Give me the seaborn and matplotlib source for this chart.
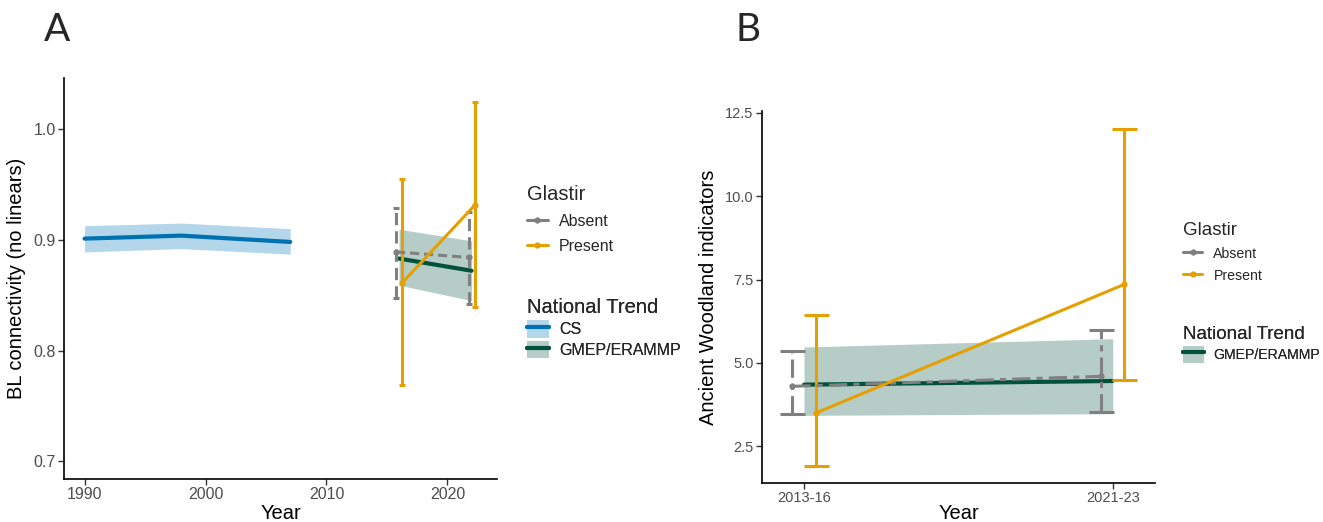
import numpy as np
import pandas as pd
import matplotlib
matplotlib.use("Agg")
import matplotlib.pyplot as plt
import seaborn as sns
from matplotlib.lines import Line2D
from matplotlib.patches import Patch
from matplotlib.legend_handler import HandlerTuple

sns.set_theme(style="white")
plt.rcParams["font.family"] = ["Liberation Sans", "DejaVu Sans"]

# ---- Panel A: broadleaf connectivity ----
cs_years = [1990, 1998, 2007]
cs_mean = [0.901, 0.9037, 0.898]
cs_lo = [0.889, 0.892, 0.887]
cs_hi = [0.9127, 0.915, 0.910]

gmep_years_a = [2016, 2022]
gmep_mean_a = [0.883, 0.872]
gmep_lo_a = [0.859, 0.845]
gmep_hi_a = [0.9095, 0.899]

glastir_years_a = [2016, 2022]
absent_mean_a = [0.889, 0.884]
absent_lo_a = [0.847, 0.842]
absent_hi_a = [0.929, 0.925]
present_mean_a = [0.861, 0.931]
present_lo_a = [0.769, 0.839]
present_hi_a = [0.955, 1.024]

# ---- Panel B: ancient woodland indicators ----
periods = ["2013-16", "2021-23"]
gmep_mean_b = [4.35, 4.46]
gmep_lo_b = [3.43, 3.48]
gmep_hi_b = [5.48, 5.73]
absent_mean_b = [4.30, 4.60]
absent_lo_b = [3.46, 3.53]
absent_hi_b = [5.35, 5.98]
present_mean_b = [3.50, 7.36]
present_lo_b = [1.90, 4.50]
present_hi_b = [6.43, 12.03]

GREY = "#808080"
ORANGE = "#E69F00"
CS_LINE = "#0072B2"
CS_BAND = "#B3D6EA"
GM_LINE = "#00533A"
GM_BAND = "#B5CDC6"
TICK_COL = "#4D4D4D"

TITLE_FS = 14.5

fig = plt.figure(figsize=(13.23, 5.22), dpi=100)
W, H = 1323, 522


def px_axes(left, top, right, bottom):
    return fig.add_axes([left / W, 1 - bottom / H, (right - left) / W, (bottom - top) / H])


def style_axes(ax, tick_fs):
    sns.despine(ax=ax)
    for s in ("left", "bottom"):
        ax.spines[s].set_color("black")
        ax.spines[s].set_linewidth(1.2)
    ax.tick_params(axis="both", which="both", direction="out", length=4, width=1,
                   color="#333333", labelcolor=TICK_COL, labelsize=tick_fs, pad=2,
                   left=True, bottom=True)


def glastir_lines(ax, x_abs, x_pre, a_mean, p_mean, abs_dash, lw):
    df = pd.DataFrame({
        "x": list(x_abs) + list(x_pre),
        "y": list(a_mean) + list(p_mean),
        "Glastir": ["Absent"] * len(x_abs) + ["Present"] * len(x_pre),
    })
    sns.lineplot(data=df, x="x", y="y", hue="Glastir", style="Glastir",
                 palette={"Absent": GREY, "Present": ORANGE},
                 dashes={"Absent": abs_dash, "Present": ""},
                 markers={"Absent": "o", "Present": "o"},
                 markersize=4.5, markeredgewidth=0, linewidth=lw,
                 estimator=None, legend=False, ax=ax, zorder=4)


def errbars(ax, x, mean, lo, hi, color, capsize, lw, ls):
    m = np.asarray(mean)
    yerr = [m - np.asarray(lo), np.asarray(hi) - m]
    eb = ax.errorbar(x, m, yerr=yerr, fmt="none", ecolor=color, elinewidth=lw,
                     capsize=capsize, capthick=lw, zorder=3)
    eb[2][0].set_linestyle(ls)
    return eb


# ================= Panel A =================
axA = px_axes(64, 78, 497, 479)
style_axes(axA, 11.5)

axA.fill_between(cs_years, cs_lo, cs_hi, color=CS_BAND, lw=0, zorder=1)
sns.lineplot(x=cs_years, y=cs_mean, color=CS_LINE, linewidth=3.0, ax=axA, zorder=2)
axA.fill_between(gmep_years_a, gmep_lo_a, gmep_hi_a, color=GM_BAND, lw=0, zorder=1)
sns.lineplot(x=gmep_years_a, y=gmep_mean_a, color=GM_LINE, linewidth=3.0, ax=axA, zorder=2)

dodge_a = 0.25
xa_abs = [y - dodge_a for y in glastir_years_a]
xa_pre = [y + dodge_a for y in glastir_years_a]
errbars(axA, xa_abs, absent_mean_a, absent_lo_a, absent_hi_a, GREY, 2.2, 2.2, (0, (4, 2)))
errbars(axA, xa_pre, present_mean_a, present_lo_a, present_hi_a, ORANGE, 2.2, 2.2, "-")
glastir_lines(axA, xa_abs, xa_pre, absent_mean_a, present_mean_a, (3, 1.6), 2.2)

axA.set_xlim(1988.3, 2024.1)
axA.set_ylim(0.684, 1.046)
axA.set_xticks([1990, 2000, 2010, 2020])
axA.set_yticks([0.7, 0.8, 0.9, 1.0])
axA.set_yticklabels(["0.7", "0.8", "0.9", "1.0"])
axA.set_xlabel("Year", fontsize=TITLE_FS, color="black", labelpad=1)
axA.set_ylabel("BL connectivity (no linears)", fontsize=TITLE_FS, color="black", labelpad=5)

# ================= Panel B =================
axB = px_axes(762, 111, 1155, 483)
style_axes(axB, 10.5)

pos = [1, 2]
axB.fill_between(pos, gmep_lo_b, gmep_hi_b, color=GM_BAND, lw=0, zorder=1)
sns.lineplot(x=pos, y=gmep_mean_b, color=GM_LINE, linewidth=3.0, ax=axB, zorder=2)

dodge_b = 0.038
xb_abs = [p - dodge_b for p in pos]
xb_pre = [p + dodge_b for p in pos]
errbars(axB, xb_abs, absent_mean_b, absent_lo_b, absent_hi_b, GREY, 9, 2.2, (0, (6, 2, 2, 2)))
errbars(axB, xb_pre, present_mean_b, present_lo_b, present_hi_b, ORANGE, 9, 2.2, "-")
glastir_lines(axB, xb_abs, xb_pre, absent_mean_b, present_mean_b, (6, 2, 2, 2), 2.2)

axB.set_xlim(0.864, 2.137)
axB.set_ylim(1.40, 12.56)
axB.set_xticks(pos)
axB.set_xticklabels(periods)
axB.set_yticks([2.5, 5.0, 7.5, 10.0, 12.5])
axB.set_yticklabels(["2.5", "5.0", "7.5", "10.0", "12.5"])
axB.set_xlabel("Year", fontsize=TITLE_FS, color="black", labelpad=-1)
axB.set_ylabel("Ancient Woodland indicators", fontsize=TITLE_FS, color="black", labelpad=5)

# ================= Legends =================
def glastir_handles():
    return [
        Line2D([], [], color=GREY, lw=2.2, marker="o", markersize=4.5, markeredgewidth=0),
        Line2D([], [], color=ORANGE, lw=2.2, marker="o", markersize=4.5, markeredgewidth=0),
    ]


def trend_handle(band, line):
    return (Patch(facecolor=band, edgecolor="none"), Line2D([], [], color=line, lw=3.0))


def add_legend(ax, handles, labels, title, x, y, fs, tfs, handler_map=None,
               handlelength=1.3, handleheight=1.0, labelspacing=0.5, textpad=0.7):
    leg = ax.legend(handles, labels, title=title, loc="upper left",
                    bbox_to_anchor=(x / W, 1 - y / H), bbox_transform=fig.transFigure,
                    frameon=False, fontsize=fs,
                    title_fontproperties={"size": tfs, "weight": "normal"},
                    handlelength=handlelength, handleheight=handleheight,
                    handletextpad=textpad, labelspacing=labelspacing,
                    borderpad=0, borderaxespad=0, handler_map=handler_map)
    leg._legend_box.align = "left"
    ax.add_artist(leg)
    return leg


tuple_map = {tuple: HandlerTuple(ndivide=1, pad=0)}

add_legend(axA, glastir_handles(), ["Absent", "Present"], "Glastir", 527, 185,
           11.5, 14.5, labelspacing=0.6)
add_legend(axA, [trend_handle(CS_BAND, CS_LINE), trend_handle(GM_BAND, GM_LINE)],
           ["CS", "GMEP/ERAMMP"], "National Trend", 527, 298, 11.5, 14.5, tuple_map,
           handlelength=1.35, handleheight=1.3, labelspacing=0.2)

add_legend(axB, glastir_handles(), ["Absent", "Present"], "Glastir", 1183, 222,
           10.2, 13.5, labelspacing=0.55, textpad=0.8, handlelength=1.35)
add_legend(axB, [trend_handle(GM_BAND, GM_LINE)], ["GMEP/ERAMMP"], "National Trend",
           1183, 326, 10.2, 13.5, tuple_map, handlelength=1.45, handleheight=1.5,
           labelspacing=0.2, textpad=0.65)

# Panel letters
fig.text(57 / W, 1 - 30 / H, "A", fontsize=28, ha="center", va="center",
         family=["Lato", "DejaVu Sans"])
fig.text(748 / W, 1 - 30 / H, "B", fontsize=28, ha="center", va="center",
         family=["Lato", "DejaVu Sans"])

fig.savefig("out.png", dpi=100, facecolor="white")
